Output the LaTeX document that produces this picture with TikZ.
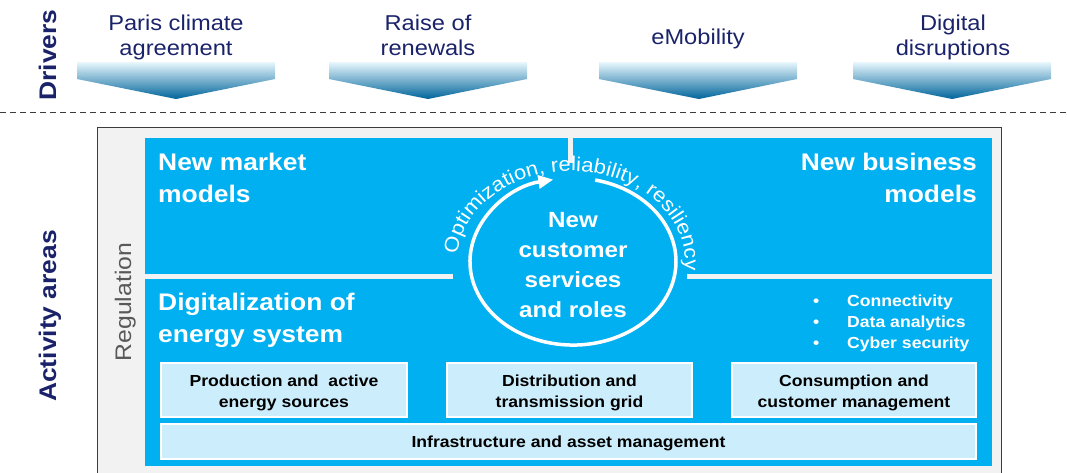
\documentclass[tikz,border=0pt]{standalone}
\usepackage{fontspec}
\setmainfont{Liberation Sans}[FakeStretch=1.1]
\usetikzlibrary{decorations.text,arrows.meta}
\definecolor{navy}{RGB}{26,35,105}
\definecolor{skyb}{RGB}{0,176,240}
\definecolor{paleb}{RGB}{204,238,252}
\definecolor{bggray}{RGB}{242,242,242}
\definecolor{reggray}{RGB}{89,89,89}
\definecolor{edgegray}{RGB}{60,60,60}
\newcommand\mlines[2]{\begin{tabular}[t]{@{}#1@{}}#2\end{tabular}}
\begin{document}
\begin{tikzpicture}[x=1pt,y=-1pt,
  drv/.style={inner sep=0pt, anchor=base, text=navy, font=\fontsize{21.5}{25}\selectfont},
  chev/.style={top color={rgb,255:red,232;green,247;blue,253}, middle color={rgb,255:red,30;green,163;blue,223}, bottom color={rgb,255:red,0;green,100;blue,155}},
  side/.style={inner sep=0pt, anchor=base, rotate=90, text=navy, font=\bfseries\fontsize{24}{24}\selectfont},
  big/.style={inner sep=0pt, text=white, font=\bfseries\fontsize{24}{32}\selectfont},
  pbox/.style={draw=white, line width=2pt, fill=paleb, inner sep=0pt},
  btxt/.style={inner sep=0pt, anchor=base, text=black, font=\bfseries\fontsize{16}{21}\selectfont},
]
\useasboundingbox (0,0) rectangle (1067,472);
\clip (0,0) rectangle (1067,472);

% drivers row
\node[side] (drivers) at (56,55) {Drivers};
\foreach \a/\t in {77/176, 329/428, 599/699, 853/952}
  \shade[chev] (\a,62) -- (\a+198,62) -- (\a+198,79) -- (\t,99) -- (\a,79) -- cycle;
\node[drv] (d1) at (176,30) {\mlines{c}{Paris climate\\agreement}};
\node[drv] (d2) at (428,30) {\mlines{c}{Raise of\\renewals}};
\node[drv] (d3) at (698,44) {eMobility};
\node[drv] (d4) at (953,30) {\mlines{c}{Digital\\disruptions}};

\draw[edgegray, line width=1pt, dash pattern=on 6pt off 4pt] (0,112) -- (1067,112);

% activity areas
\node[side] (activity) at (56,316) {Activity areas};
\draw[fill=bggray, draw=edgegray, line width=1pt] (97,127) rectangle (1001,490);
\node[inner sep=0pt, anchor=base, rotate=90, text=reggray, font=\fontsize{22.5}{22.5}\selectfont] (reg) at (131,302) {Regulation};

\fill[skyb] (145,138) rectangle (992,466);
\fill[bggray] (145,274) rectangle (453,279);
\fill[bggray] (687,274) rectangle (992,279);
\fill[bggray] (568,138) rectangle (573,163);

\node[big, anchor=base west] (nmm) at (158,170) {\mlines{l}{New market\\models}};
\node[big, anchor=base east] (nbm) at (977,170) {\mlines{r}{New business\\models}};
\node[big, anchor=base west] (dig) at (158,310) {\mlines{l}{Digitalization of\\energy system}};

% circle
\draw[white, line width=3.5pt, -{Triangle[length=15pt,width=13pt]}]
  (595.1,180.0) arc[start angle=-77.6, end angle=259, x radius=103, y radius=83.5];
\path[decorate, decoration={text along path, text align=center, text color=white,
  text={|\fontsize{20}{20}\selectfont|Optimization, reliability, resiliency}}]
  (457.3,255.6) arc[start angle=184, end angle=366, x radius=114, y radius=91];
\node[inner sep=0pt, anchor=base, text=white, font=\bfseries\fontsize{22}{30}\selectfont] (ncs) at (573,227)
  {\mlines{c}{New\\customer\\services\\and roles}};

% bullets
\node[inner sep=0pt, anchor=base west, text=white, font=\bfseries\fontsize{16}{21}\selectfont] (bul) at (813,306)
  {\mlines{l}{\makebox[34pt][l]{\textbullet}Connectivity\\\makebox[34pt][l]{\textbullet}Data analytics\\\makebox[34pt][l]{\textbullet}Cyber security}};

% boxes
\node[pbox, minimum width=246pt, minimum height=54pt] (b1) at (284,390) {};
\node[pbox, minimum width=245pt, minimum height=54pt] (b2) at (569.5,390) {};
\node[pbox, minimum width=244pt, minimum height=54pt] (b3) at (854,390) {};
\node[pbox, minimum width=815pt, minimum height=35pt] (b4) at (568.5,441.5) {};
\node[btxt] (t1) at (284,386) {\mlines{c}{Production and\ \ active\\energy sources}};
\node[btxt] (t2) at (569.5,386) {\mlines{c}{Distribution and\\transmission grid}};
\node[btxt] (t3) at (854,386) {\mlines{c}{Consumption and\\customer management}};
\node[btxt] (t4) at (568.5,447) {Infrastructure and asset management};
\end{tikzpicture}
\end{document}
